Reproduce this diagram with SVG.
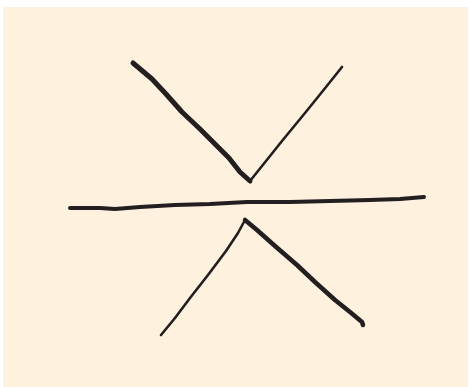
<svg xmlns="http://www.w3.org/2000/svg" width="469" height="387" viewBox="0 0 469 387">
<style>
.s{fill:none;stroke:#231f20;stroke-linecap:round;stroke-linejoin:round}
</style>
<rect x="0" y="0" width="469" height="387" fill="#ffffff"/>
<rect x="3" y="7" width="465" height="380" fill="#fef1de"/>
<g id="upper-v">
<path class="s" stroke-width="5" d="M133,63 L152,79 L166,94 L182,112 L200,129 L215,144 L229,158 L240,172 L250,181"/>
<path class="s" stroke-width="2.6" d="M250,181 L262,166 L282,141 L305,113 L322,92 L342,67"/>
</g>
<g id="horizon">
<path class="s" stroke-width="4" d="M70,208 L100,208 L115,209 L140,207 L175,205 L210,204 L247,202 L290,202 L330,201 L370,200 L400,199 L424,197"/>
</g>
<g id="lower-v">
<path class="s" stroke-width="4.5" d="M245,220 L257,230 L275,246 L297,265 L315,282 L335,300 L350,312 L362,322 L363,325"/>
<path class="s" stroke-width="2.6" d="M245,220 L238,233 L226,251 L208,275 L190,298 L175,318 L161,335"/>
</g>
</svg>
